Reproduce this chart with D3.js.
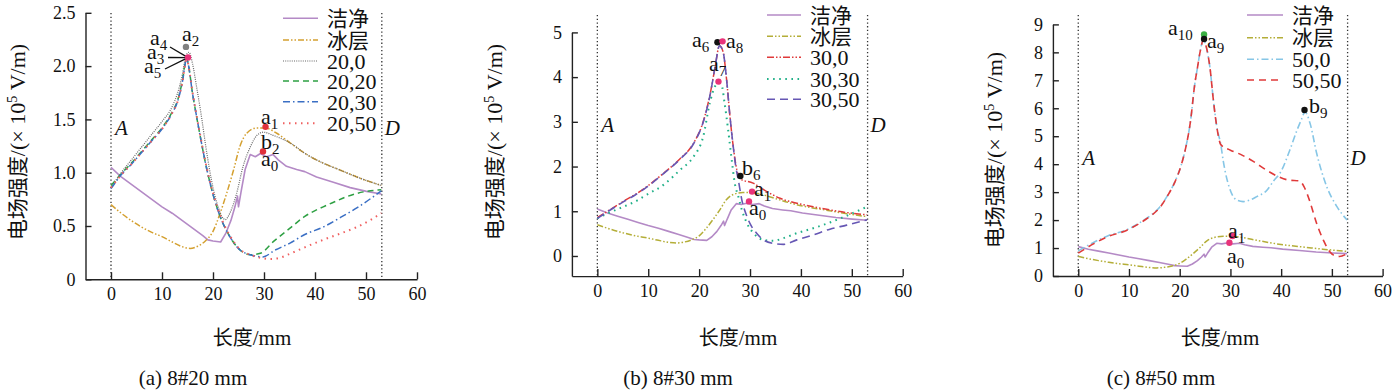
<!DOCTYPE html>
<html><head><meta charset="utf-8">
<script src="https://cdn.jsdelivr.net/npm/d3@7"></script>
<style>
body{margin:0;background:#fff;}
svg text{font-family:'Liberation Serif',serif;fill:#111;}
</style>
</head><body>
<svg id="chart" width="1395" height="390"></svg>
<script>
// ---------------- DATA ----------------
const xTicks = [0, 10, 20, 30, 40, 50, 60];
const yTicksA = [0, 0.5, 1.0, 1.5, 2.0, 2.5];
const yTickLabelsA = ["0", "0.5", "1.0", "1.5", "2.0", "2.5"];
const yTicksB = [0, 1, 2, 3, 4, 5];
const yTickLabelsB = ["0", "1", "2", "3", "4", "5"];
const yTicksC = [0, 1, 2, 3, 4, 5, 6, 7, 8, 9];
const yTickLabelsC = ["0", "1", "2", "3", "4", "5", "6", "7", "8", "9"];
const boundaryX = [0, 53.1];
const boundaryNames = ["A", "D"];

// clean (洁净) — same in all panels
const cleanX = [0,2,4,6,8,10,12,14,16,18,19,20,21.5,22.5,23.5,24.3,24.8,25.0,25.5,26.3,27.3,28.3,29.3,30.5,31.8,32.8,34.4,36.4,38,40.3,43.6,46.9,50.1,53];
const cleanY = [1.05,0.96,0.89,0.82,0.75,0.68,0.62,0.55,0.48,0.41,0.37,0.36,0.35,0.43,0.55,0.68,0.78,0.68,0.82,1.03,1.17,1.15,1.18,1.15,1.17,1.12,1.06,1.03,1.01,0.96,0.91,0.86,0.825,0.80];
// ice layer (冰层)
const iceX = [0,2,4,6,8,10,12,14,15.5,17,18.5,20,21.4,22.7,24,25.3,26.6,28.6,30.2,32.5,35.1,38.4,41.6,44.9,48.2,53];
const iceY = [0.70,0.62,0.55,0.49,0.44,0.40,0.35,0.305,0.29,0.31,0.36,0.45,0.62,0.81,1.02,1.25,1.37,1.42,1.42,1.37,1.28,1.17,1.09,1.025,0.96,0.88];

// panel (a) 8#20 mm
const s20_0X = [0,2,4,6,8,10,12,13,14,14.7,15.3,16,16.8,17.5,18.8,19.7,21,22.4,23.3,24.6,25.9,27.3,28.6,29.9,31.8,35.1,38.4,41.6,44.9,48.2,53];
const s20_0Y = [0.86,1.0,1.12,1.24,1.36,1.48,1.62,1.74,1.92,2.10,2.13,2.02,1.80,1.60,1.18,0.93,0.68,0.56,0.62,0.80,1.06,1.24,1.35,1.38,1.35,1.28,1.17,1.09,1.025,0.96,0.88];
const s20_20X = [0,2,4,6,8,10,12,13,14,14.8,16.1,17.5,18.8,20.1,21.4,23.3,25.3,27.3,29.3,32,35.1,38,41.6,44,46.2,49.5,53];
const s20_20Y = [0.88,0.99,1.09,1.2,1.31,1.42,1.57,1.67,1.86,2.07,1.71,1.34,1.03,0.78,0.59,0.40,0.275,0.23,0.245,0.36,0.48,0.59,0.68,0.73,0.775,0.82,0.84];
const s20_30X = [0,2,4,6,8,10,12,13,14,14.8,16.1,17.5,18.8,20.1,21.4,23.3,25.3,27.3,29.8,32,35.1,38,41.6,45,48.2,51,53];
const s20_30Y = [0.85,0.98,1.08,1.19,1.3,1.41,1.56,1.66,1.85,2.06,1.71,1.34,1.03,0.78,0.59,0.40,0.275,0.23,0.21,0.27,0.34,0.42,0.49,0.58,0.67,0.76,0.83];
const s20_50X = [0,2,4,6,8,10,12,13,14,14.8,16.1,17.5,18.8,20.1,21.4,23.3,25.3,27.3,29.5,31.2,33,35.1,38,41.6,45,48.2,51,53];
const s20_50Y = [0.86,0.98,1.08,1.19,1.3,1.41,1.56,1.66,1.85,2.06,1.72,1.35,1.04,0.79,0.6,0.41,0.28,0.23,0.2,0.19,0.2,0.24,0.3,0.37,0.43,0.49,0.56,0.62];

// panel (b) 8#30 mm
const s30_0X = [0,2,5.1,7.5,9.7,13,16.3,18.9,20.9,22.2,23.1,24,24.7,25.4,26,26.7,27.4,28.1,30.6,33.3,35.9,39.2,42.4,45.7,49,53];
const s30_0Y = [0.86,1.0,1.22,1.38,1.55,1.85,2.18,2.52,3.04,3.64,4.2,4.7,4.57,3.94,3.19,2.45,1.93,1.72,1.63,1.44,1.29,1.18,1.10,1.03,0.97,0.92];
const s30_30X = [0,2,5.1,7.5,9.7,13,16.3,18.9,20.8,22.1,23.1,23.9,24.4,25,25.7,26.4,27,27.7,28.4,29.4,30.7,32.6,34.6,36.6,39.2,42.4,45.7,49,53];
const s30_30Y = [0.84,0.95,1.1,1.22,1.37,1.59,1.93,2.22,2.67,3.42,3.79,3.87,3.83,3.42,2.82,2.15,1.63,1.33,1.03,0.73,0.51,0.36,0.34,0.40,0.51,0.62,0.75,0.9,1.1];
const s30_50X = [0,2,5.1,7.5,9.7,13,16.3,18.9,20.9,22.2,23.1,24,24.7,25.4,26,26.7,27.2,27.7,28.4,29.4,30.3,31.3,32.6,34.6,36.6,39.2,42.4,45.7,49,53];
const s30_50Y = [0.84,0.99,1.21,1.37,1.54,1.84,2.17,2.51,3.03,3.63,4.2,4.7,4.57,3.94,3.19,2.45,2.0,1.7,1.25,0.88,0.66,0.51,0.36,0.28,0.26,0.36,0.47,0.6,0.69,0.81];

// panel (c) 8#50 mm
const s50_0X = [0,3,6,9.5,12.5,14.5,16,17.5,19,20.3,21.2,22.1,23,23.5,24,24.7,25.3,26,26.6,27.3,28.1,28.6,29.9,31.2,32.5,33.9,35.2,37.1,38.5,40,41.7,43.2,44,44.7,45.7,47,49,51,53];
const s50_0Y = [0.9,1.2,1.45,1.65,1.95,2.2,2.45,2.85,3.35,3.97,4.6,5.5,6.9,7.45,8.0,8.45,8.15,7.4,6.35,5.35,4.7,4.1,3.1,2.72,2.66,2.72,2.84,3.05,3.4,3.75,4.5,5.25,5.6,5.87,5.46,4.39,3.19,2.48,2.0];
const s50_50X = [0,3,6,9.5,12.5,14.5,16,17.5,19,20.3,21.2,22.1,23,23.5,24,24.7,25.3,26,26.6,27.3,28.1,30,32,34.5,37,39.5,41.5,43.6,44.5,45.5,47,48.3,49.6,50.3,51.5,53];
const s50_50Y = [0.82,1.15,1.42,1.63,1.93,2.18,2.43,2.84,3.34,3.97,4.6,5.5,6.9,7.45,8.0,8.45,8.15,7.4,6.35,5.35,4.7,4.5,4.35,4.1,3.8,3.55,3.43,3.4,3.2,2.75,1.88,1.29,0.87,0.75,0.7,0.8];

// marked points
const markA = [ {x:14.7,y:2.18,k:"gray"}, {x:15.1,y:2.08,k:"pink"}, {x:30.3,y:1.43,k:"red"}, {x:29.8,y:1.20,k:"red"} ];
const markB = [ {x:23.6,y:4.78,k:"black"}, {x:24.6,y:4.80,k:"pink"}, {x:23.8,y:3.90,k:"pink"}, {x:28.1,y:1.79,k:"black"}, {x:30.4,y:1.44,k:"pink"}, {x:29.8,y:1.22,k:"pink"} ];
const markC = [ {x:24.8,y:8.64,k:"green"}, {x:24.8,y:8.48,k:"black"}, {x:44.6,y:5.94,k:"black"}, {x:30.4,y:1.43,k:"pink"}, {x:29.8,y:1.19,k:"pink"} ];

// ---------------- STYLES ----------------
const SERIF = "'Liberation Serif',serif";
const CJK = "'Noto Sans CJK SC',sans-serif";
const markColor = {gray:"#808080", pink:"#e8337a", red:"#e0303a", black:"#111", green:"#3cb043"};
const st = {
  clean:  {c:"#b48ac6", d:null, w:1.6, curve:d3.curveLinear},
  iceA:   {c:"#d4a030", d:"6,2,1.5,2,1.5,2", w:1.5},
  iceBC:  {c:"#b4ae38", d:"6,2,1.5,2,1.5,2", w:1.5},
  g20_0:  {c:"#666", d:"1,1.2", w:1.2},
  g20_20: {c:"#2ea043", d:"6,4", w:1.5},
  g20_30: {c:"#3a6fc4", d:"7,3,1.5,3", w:1.5},
  g20_50: {c:"#f06060", d:"1.5,4.5", w:2},
  g30_0:  {c:"#e03a3a", d:"7,2,1.5,2,1.5,2", w:1.5},
  g30_30: {c:"#20b088", d:"1.6,4.5", w:2},
  g30_50: {c:"#6657b4", d:"8,5", w:1.6},
  g50_0:  {c:"#86c6e6", d:"7,3,1.5,3", w:1.6},
  g50_50: {c:"#e03a3a", d:"7,5", w:1.6}
};

const svg = d3.select("#chart");
const hasCJK = s => /[\u4e00-\u9fff]/.test(s);

function drawPanel(cfg) {
  const g = svg.append("g");
  const x = d3.scaleLinear().domain([-5, 60]).range(cfg.xr);
  const y = d3.scaleLinear().domain(cfg.yd).range(cfg.yr);

  // boundary dotted lines
  boundaryX.forEach((b, i) => {
    g.append("line").attr("x1", x(b)).attr("x2", x(b))
      .attr("y1", cfg.dotTop).attr("y2", cfg.yr[0])
      .attr("stroke", "#333").attr("stroke-width", 1.3).attr("stroke-dasharray", "1.3,2.4");
    g.append("text").attr("x", x(b) + (i === 0 ? 4 : 3)).attr("y", cfg.adY)
      .attr("font-size", 21).attr("font-style", "italic").style("font-family", SERIF).text(boundaryNames[i]);
  });

  // axes
  const xa = d3.axisBottom(x).tickValues(xTicks).tickSizeInner(-7).tickSizeOuter(0).tickPadding(8).tickFormat(d3.format("d"));
  const gx = g.append("g").attr("transform", `translate(0,${cfg.yr[0]})`).call(xa);
  const ya = d3.axisLeft(y).tickValues(cfg.yTicks).tickSizeInner(-6).tickSizeOuter(0).tickPadding(10)
      .tickFormat((d, i) => cfg.yLabels[i]);
  const gy = g.append("g").attr("transform", `translate(${cfg.xr[0]},0)`).call(ya);
  [gx, gy].forEach(a => {
    a.attr("font-family", null).attr("font-size", null);
    a.selectAll("text").attr("font-size", 18).style("font-family", SERIF);
    a.selectAll("path,line").attr("stroke", "#222").attr("stroke-width", 1.4);
  });

  // series
  const line = (curve) => d3.line().x(d => x(d[0])).y(d => y(d[1])).curve(curve || d3.curveMonotoneX);
  cfg.series.forEach(s => {
    const pts = s.xs.map((v, i) => [v, s.ys[i]]);
    const sty = st[s.style];
    g.append("path").datum(pts).attr("d", line(sty.curve))
      .attr("fill", "none").attr("stroke", sty.c).attr("stroke-width", sty.w)
      .attr("stroke-dasharray", sty.d).attr("stroke-linejoin", "round");
  });

  // legend
  cfg.series.forEach((s, i) => {
    const sty = st[s.style];
    const ly = cfg.legRows[i];
    g.append("line").attr("x1", cfg.legX[0]).attr("x2", cfg.legX[1]).attr("y1", ly).attr("y2", ly)
      .attr("stroke", sty.c).attr("stroke-width", sty.w).attr("stroke-dasharray", sty.d);
    g.append("text").attr("x", cfg.legX[2]).attr("y", ly).attr("dy", "0.36em")
      .attr("font-size", hasCJK(s.name) ? 21 : 22)
      .style("font-family", hasCJK(s.name) ? CJK : SERIF).text(s.name);
  });

  // pointer lines
  (cfg.pointers || []).forEach(p => {
    g.append("line").attr("x1", p[0]).attr("y1", p[1]).attr("x2", x(p[2])).attr("y2", y(p[3]))
      .attr("stroke", "#111").attr("stroke-width", 1.3);
  });

  // marks
  cfg.marks.forEach(m => {
    g.append("circle").attr("cx", x(m.x)).attr("cy", y(m.y)).attr("r", 3.2).attr("fill", markColor[m.k]);
  });

  // point labels
  cfg.labels.forEach(l => {
    const t = g.append("text").attr("x", l[0]).attr("y", l[1]).attr("font-size", 22).style("font-family", SERIF);
    t.append("tspan").text(l[2]);
    t.append("tspan").attr("dy", 5).attr("font-size", 15).text(l[3]);
  });

  // y title
  const yt = g.append("text").attr("transform", `translate(${cfg.yTitle[0]},${cfg.yTitle[1]}) rotate(-90)`)
    .attr("text-anchor", "middle").attr("font-size", 22);
  yt.append("tspan").style("font-family", CJK).attr("font-size", 21).text("电场强度");
  yt.append("tspan").style("font-family", SERIF).text("/(× 10");
  yt.append("tspan").style("font-family", SERIF).attr("dy", -8).attr("font-size", 14).text("5");
  yt.append("tspan").style("font-family", SERIF).attr("dy", 8).text(" V/m)");

  // x title & caption
  const xt = g.append("text").attr("x", cfg.xTitleX).attr("y", 338).attr("dy", "0.35em").attr("text-anchor", "middle")
    .attr("font-size", 21);
  xt.append("tspan").style("font-family", CJK).attr("font-size", 20).text("长度");
  xt.append("tspan").style("font-family", SERIF).text("/mm");
  g.append("text").attr("x", cfg.capX).attr("y", 378).attr("dy", "0.35em").attr("text-anchor", "middle")
    .attr("font-size", 21).style("font-family", SERIF).text(cfg.caption);
}

drawPanel({
  xr: [85.5, 417], yd: [0, 2.5], yr: [279.3, 12.8], dotTop: 13, adY: 135,
  yTicks: yTicksA, yLabels: yTickLabelsA,
  series: [
    {name:"洁净", xs:cleanX, ys:cleanY, style:"clean"},
    {name:"冰层", xs:iceX, ys:iceY, style:"iceA"},
    {name:"20,0", xs:s20_0X, ys:s20_0Y, style:"g20_0"},
    {name:"20,20", xs:s20_20X, ys:s20_20Y, style:"g20_20"},
    {name:"20,30", xs:s20_30X, ys:s20_30Y, style:"g20_30"},
    {name:"20,50", xs:s20_50X, ys:s20_50Y, style:"g20_50"}
  ],
  legX: [283, 318, 327], legRows: [18.3, 40, 61, 81, 101.7, 123.3],
  marks: markA,
  pointers: [[170, 47, 15.1, 2.08], [168, 57.5, 15.1, 2.08], [165, 69, 15.1, 2.08]],
  labels: [[182, 41, "a", "2"], [150, 45, "a", "4"], [147, 59, "a", "3"], [144, 73, "a", "5"],
           [261, 124, "a", "1"], [261, 149, "b", "2"], [261, 166, "a", "0"]],
  yTitle: [25, 142], xTitleX: 252, capX: 193, caption: "(a) 8#20 mm"
});

drawPanel({
  xr: [571.9, 902.7], yd: [-0.45, 5], yr: [276.1, 32.4], dotTop: 15, adY: 132,
  yTicks: yTicksB, yLabels: yTickLabelsB,
  series: [
    {name:"洁净", xs:cleanX, ys:cleanY, style:"clean"},
    {name:"冰层", xs:iceX, ys:iceY, style:"iceBC"},
    {name:"30,0", xs:s30_0X, ys:s30_0Y, style:"g30_0"},
    {name:"30,30", xs:s30_30X, ys:s30_30Y, style:"g30_30"},
    {name:"30,50", xs:s30_50X, ys:s30_50Y, style:"g30_50"}
  ],
  legX: [767, 801, 810], legRows: [15, 36.3, 57.3, 79, 99.3],
  marks: markB,
  labels: [[692, 47, "a", "6"], [726, 48, "a", "8"], [709, 71, "a", "7"], [742, 175, "b", "6"],
           [754, 196, "a", "1"], [749, 215, "a", "0"]],
  yTitle: [502, 142], xTitleX: 738, capX: 678, caption: "(b) 8#30 mm"
});

drawPanel({
  xr: [1052.9, 1382.6], yd: [0, 9], yr: [276, 24.4], dotTop: 15, adY: 165,
  yTicks: yTicksC, yLabels: yTickLabelsC,
  series: [
    {name:"洁净", xs:cleanX, ys:cleanY, style:"clean"},
    {name:"冰层", xs:iceX, ys:iceY, style:"iceBC"},
    {name:"50,0", xs:s50_0X, ys:s50_0Y, style:"g50_0"},
    {name:"50,50", xs:s50_50X, ys:s50_50Y, style:"g50_50"}
  ],
  legX: [1247, 1283, 1292], legRows: [15, 37.7, 59.3, 80],
  marks: markC,
  labels: [[1168, 35, "a", "10"], [1207, 48, "a", "9"], [1309, 113, "b", "9"],
           [1228, 238, "a", "1"], [1227, 263, "a", "0"]],
  yTitle: [1002, 150], xTitleX: 1220, capX: 1161, caption: "(c) 8#50 mm"
});
</script>
</body></html>
